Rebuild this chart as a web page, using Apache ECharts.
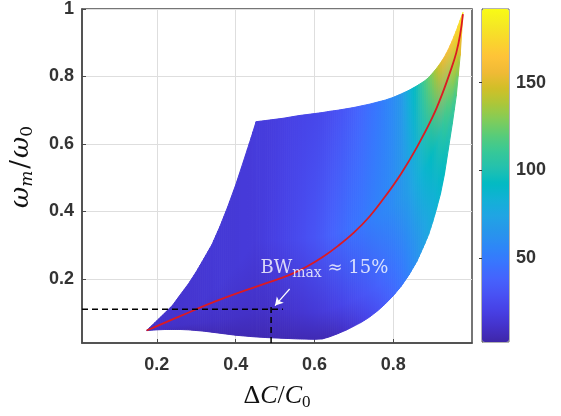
<!DOCTYPE html>
<html>
<head>
<meta charset="utf-8">
<script src="https://cdn.jsdelivr.net/npm/echarts@6/dist/echarts.min.js"></script>
<style>
html, body { margin: 0; padding: 0; background: #fff; }
#chart { width: 561px; height: 416px; }
</style>
</head>
<body>
<div id="chart"></div>
<script>
// surface mesh: columns along ΔC/C0 with the lower and upper edge (ωm/ω0) of the surface
var colX = [0.174, 0.20, 0.22, 0.24, 0.26, 0.28, 0.30, 0.32, 0.34, 0.36, 0.38, 0.40, 0.42, 0.44, 0.452,
            0.48, 0.52, 0.56, 0.60, 0.62, 0.64, 0.66, 0.68, 0.70, 0.72, 0.74, 0.76, 0.78, 0.80, 0.82,
            0.84, 0.86, 0.88, 0.89, 0.90, 0.91, 0.92, 0.93, 0.94, 0.95, 0.96, 0.97, 0.977];
var edgeLow = [0.047, 0.049, 0.050, 0.050, 0.050, 0.049, 0.047, 0.045, 0.042, 0.039, 0.036, 0.033, 0.031, 0.029, 0.028,
               0.026, 0.024, 0.022, 0.021, 0.022, 0.029, 0.038, 0.048, 0.060, 0.072, 0.087, 0.105, 0.126, 0.150, 0.178,
               0.212, 0.252, 0.304, 0.332, 0.368, 0.408, 0.452, 0.510, 0.585, 0.660, 0.742, 0.862, 0.99];
var edgeHigh = [0.047, 0.076, 0.099, 0.122, 0.154, 0.185, 0.221, 0.261, 0.302, 0.355, 0.414, 0.478, 0.549, 0.621, 0.666,
                0.670, 0.676, 0.684, 0.690, 0.693, 0.697, 0.700, 0.704, 0.708, 0.713, 0.718, 0.724, 0.730, 0.738, 0.748,
                0.759, 0.772, 0.787, 0.797, 0.810, 0.824, 0.840, 0.858, 0.880, 0.906, 0.935, 0.967, 0.99];

// colour value on every column: at the lower edge, near it, half way up, at the upper edge
var colBottom = [8, 8, 8, 7, 7, 6, 6, 6, 6, 6, 5, 5, 5, 5, 5,
                 5, 5, 5, 5, 5, 6, 8, 11, 14, 18, 23, 28, 34, 40, 46,
                 54, 62, 72, 76, 80, 84, 88, 93, 98, 106, 115, 140, 188];
var colLow    = [8, 9, 9, 10, 10, 10, 10, 10, 10, 10, 10, 10, 10, 10, 10,
                 10, 11, 13, 15, 16, 18, 20, 23, 26, 29, 33, 37, 41, 45, 50,
                 57, 65, 74, 78, 82, 86, 90, 95, 100, 108, 118, 142, 188];
var colMid    = [8, 11, 11, 12, 12, 13, 13, 14, 14, 15, 15, 15, 16, 16, 16,
                 18, 21, 25, 30, 33, 37, 40, 43, 46, 48, 51, 54, 56, 59, 64,
                 70, 79, 87, 90, 93, 97, 102, 110, 118, 128, 140, 162, 188];
var colTop    = [8, 11, 12, 12, 13, 13, 14, 14, 15, 15, 15, 15, 16, 16, 17,
                 17, 19, 21, 23, 24, 26, 29, 32, 36, 40, 44, 48, 53, 58, 66,
                 82, 96, 114, 122, 130, 140, 150, 156, 161, 166, 172, 180, 188];

// red curve
var ridgeX = [0.174, 0.20, 0.25, 0.30, 0.35, 0.41, 0.48, 0.537, 0.58, 0.62, 0.66, 0.70, 0.74, 0.78,
              0.82, 0.86, 0.90, 0.925, 0.945, 0.96, 0.97, 0.977];
var ridgeY = [0.047, 0.060, 0.085, 0.110, 0.134, 0.160, 0.188, 0.212, 0.236, 0.264, 0.298, 0.337, 0.385, 0.445,
              0.512, 0.590, 0.680, 0.750, 0.815, 0.870, 0.925, 0.985];

// BW max marker
var bwPoint = [0.49, 0.11];
var bwReach = [0.52, 0.128];
var arrowFrom = [0.537, 0.170];
var arrowTo = [0.500, 0.121];
var bwLabelAt = [0.463, 0.232];

var xTicks = [0.2, 0.4, 0.6, 0.8];
var yTicks = [0.2, 0.4, 0.6, 0.8, 1];
var barTicks = [50, 100, 150];
var xRange = [0.01, 1];
var yRange = [0.01, 1];
var valueRange = [2, 192];

var parula = ['#3e26a8', '#4432cb', '#4741e5', '#4852f4', '#4563fd', '#3875fe', '#2e87f7', '#2796eb',
              '#20a5e3', '#12b1d6', '#02bac3', '#24c1ae', '#37c897', '#57cc7a', '#81cc59', '#abc739',
              '#d1bf27', '#f0ba36', '#fec338', '#fad62d', '#f5e924', '#f9fb15'];
var stopAt = [0, 0.12, 0.45, 1];

function valueColor(v) {
    var t = (v - valueRange[0]) / (valueRange[1] - valueRange[0]);
    return echarts.color.lerp(Math.max(0, Math.min(1, t)), parula);
}

var strips = [];
for (var i = 0; i < colX.length - 1; i++) {
    strips.push([colX[i], colX[i + 1], edgeLow[i], edgeHigh[i], edgeLow[i + 1], edgeHigh[i + 1],
                 colBottom[i], colLow[i], colMid[i], colTop[i],
                 colBottom[i + 1], colLow[i + 1], colMid[i + 1], colTop[i + 1]]);
}

var ridge = ridgeX.map(function (x, k) { return [x, ridgeY[k]]; });

function mix(a, b, s) { return [a[0] + (b[0] - a[0]) * s, a[1] + (b[1] - a[1]) * s]; }

// one strip between two columns, shaded like "interp": colours blend across and up the strip
function renderStrip(params, api) {
    var p0 = api.coord([api.value(0), api.value(2)]);
    var p1 = api.coord([api.value(1), api.value(4)]);
    var p2 = api.coord([api.value(1), api.value(5)]);
    var p3 = api.coord([api.value(0), api.value(3)]);
    var n = Math.max(1, Math.ceil((p1[0] - p0[0]) / 2));
    var children = [];
    for (var j = 0; j < n; j++) {
        var s0 = j / n, s1 = (j + 1) / n, sc = (s0 + s1) / 2;
        var b0 = mix(p0, p1, s0), b1 = mix(p0, p1, s1);
        var t0 = mix(p3, p2, s0), t1 = mix(p3, p2, s1);
        var yBot = (b0[1] + b1[1]) / 2, yTop = (t0[1] + t1[1]) / 2;
        var stops = stopAt.map(function (off, k) {
            var v = api.value(6 + k) * (1 - sc) + api.value(10 + k) * sc;
            return { offset: off, color: valueColor(v) };
        });
        var grad = new echarts.graphic.LinearGradient(0, yBot, 0, yTop, stops, true);
        children.push({
            type: 'polygon',
            shape: { points: [b0, b1, t1, t0] },
            style: { fill: grad, stroke: grad, lineWidth: 1 }
        });
    }
    return { type: 'group', children: children };
}

var tickFont = { fontFamily: 'Liberation Sans', fontWeight: 'bold', fontSize: 18, color: '#333' };
var axisDark = '#4a4a4a';

var chart = echarts.init(document.getElementById('chart'));
chart.setOption({
    animation: false,
    backgroundColor: '#fff',
    grid: [
        { left: 82, top: 9, width: 390, height: 334, show: true, borderColor: axisDark, borderWidth: 1.5 },
        { left: 482, top: 9, width: 27, height: 333, show: true, borderColor: '#666', borderWidth: 1 }
    ],
    xAxis: [
        {
            type: 'value', gridIndex: 0, min: xRange[0], max: xRange[1],
            name: '{d|Δ}{i|C}{d|/}{i|C}{s|0}',
            nameLocation: 'middle', nameGap: 39,
            nameTextStyle: {
                rich: {
                    d: { fontFamily: 'Liberation Serif', fontSize: 26, color: '#111' },
                    i: { fontFamily: 'Liberation Serif', fontStyle: 'italic', fontSize: 26, color: '#111' },
                    s: { fontFamily: 'Liberation Serif', fontSize: 17, color: '#111', padding: [12, 0, 0, 0] }
                }
            },
            axisLine: { show: true, lineStyle: { color: axisDark, width: 1.5 } },
            axisTick: { show: true, inside: true, length: 4, customValues: xTicks, lineStyle: { color: axisDark } },
            axisLabel: Object.assign({ customValues: xTicks, margin: 13 }, tickFont),
            splitLine: { show: true, lineStyle: { color: '#dedede', width: 1 } }
        },
        { type: 'value', gridIndex: 1, min: 0, max: 1, show: false }
    ],
    yAxis: [
        {
            type: 'value', gridIndex: 0, min: yRange[0], max: yRange[1],
            name: '{i|ω}{si|m}{d|/}{i|ω}{s|0}',
            nameLocation: 'middle', nameGap: 46, nameRotate: 90,
            nameTextStyle: {
                padding: [0, 0, 0, 18],
                rich: {
                    d: { fontFamily: 'DejaVu Serif', fontSize: 26, color: '#111', padding: [0, 2, 0, 2] },
                    i: { fontFamily: 'DejaVu Serif', fontStyle: 'italic', fontSize: 26, color: '#111' },
                    si: { fontFamily: 'DejaVu Serif', fontStyle: 'italic', fontSize: 17, color: '#111', padding: [12, 0, 0, 0] },
                    s: { fontFamily: 'DejaVu Serif', fontSize: 17, color: '#111', padding: [12, 0, 0, 0] }
                }
            },
            axisLine: { show: true, lineStyle: { color: axisDark, width: 1.5 } },
            axisTick: { show: true, inside: true, length: 4, customValues: yTicks, lineStyle: { color: axisDark } },
            axisLabel: Object.assign({ customValues: yTicks, margin: 8 }, tickFont),
            splitLine: { show: true, lineStyle: { color: '#dedede', width: 1 } }
        },
        {
            type: 'value', gridIndex: 1, position: 'right', min: valueRange[0], max: valueRange[1],
            axisLine: { show: true, lineStyle: { color: '#666', width: 1 } },
            axisTick: { show: true, inside: true, length: 3, customValues: barTicks, lineStyle: { color: '#333' } },
            axisLabel: Object.assign({ customValues: barTicks, margin: 7 }, tickFont),
            splitLine: { show: false }
        }
    ],
    visualMap: {
        type: 'continuous',
        min: valueRange[0], max: valueRange[1],
        seriesIndex: 0, dimension: 8,
        calculable: false, realtime: false,
        left: 482, top: 9, padding: 0,
        itemWidth: 27, itemHeight: 333,
        text: null, showLabel: false,
        inRange: { color: parula }
    },
    series: [
        {
            type: 'custom',
            xAxisIndex: 0, yAxisIndex: 0,
            renderItem: renderStrip,
            clip: true,
            silent: true,
            data: strips,
            z: 2
        },
        {
            type: 'line',
            data: ridge,
            smooth: 0.4,
            showSymbol: false,
            lineStyle: { color: '#dc1a22', width: 1.8 },
            silent: true,
            z: 4
        },
        {
            type: 'line',
            data: [[xRange[0], bwPoint[1]], [bwReach[0], bwPoint[1]]],
            showSymbol: false,
            lineStyle: { color: '#000', width: 1.5, type: [6, 4] },
            silent: true,
            z: 5
        },
        {
            type: 'line',
            data: [[bwPoint[0], yRange[0]], [bwPoint[0], bwReach[1]]],
            showSymbol: false,
            lineStyle: { color: '#000', width: 1.5, type: [6, 4] },
            silent: true,
            z: 5
        },
        {
            type: 'line',
            data: [],
            silent: true,
            z: 6,
            markLine: {
                silent: true,
                symbol: ['none', 'arrow'],
                symbolSize: [7, 8],
                label: { show: false },
                lineStyle: { color: '#fff', width: 1.2, type: 'solid' },
                data: [[{ coord: arrowFrom }, { coord: arrowTo }]]
            }
        },
        {
            type: 'scatter',
            data: [bwLabelAt],
            symbolSize: 0,
            silent: true,
            z: 6,
            label: {
                show: true,
                position: 'right',
                distance: 0,
                formatter: '{n|BW}{s|max}{n| ≈ 15%}',
                rich: {
                    n: { fontFamily: 'DejaVu Serif', fontSize: 18, color: '#fff' },
                    s: { fontFamily: 'DejaVu Serif', fontSize: 14, color: '#fff', padding: [11, 0, 0, 0] }
                }
            }
        }
    ]
});
</script>
</body>
</html>
